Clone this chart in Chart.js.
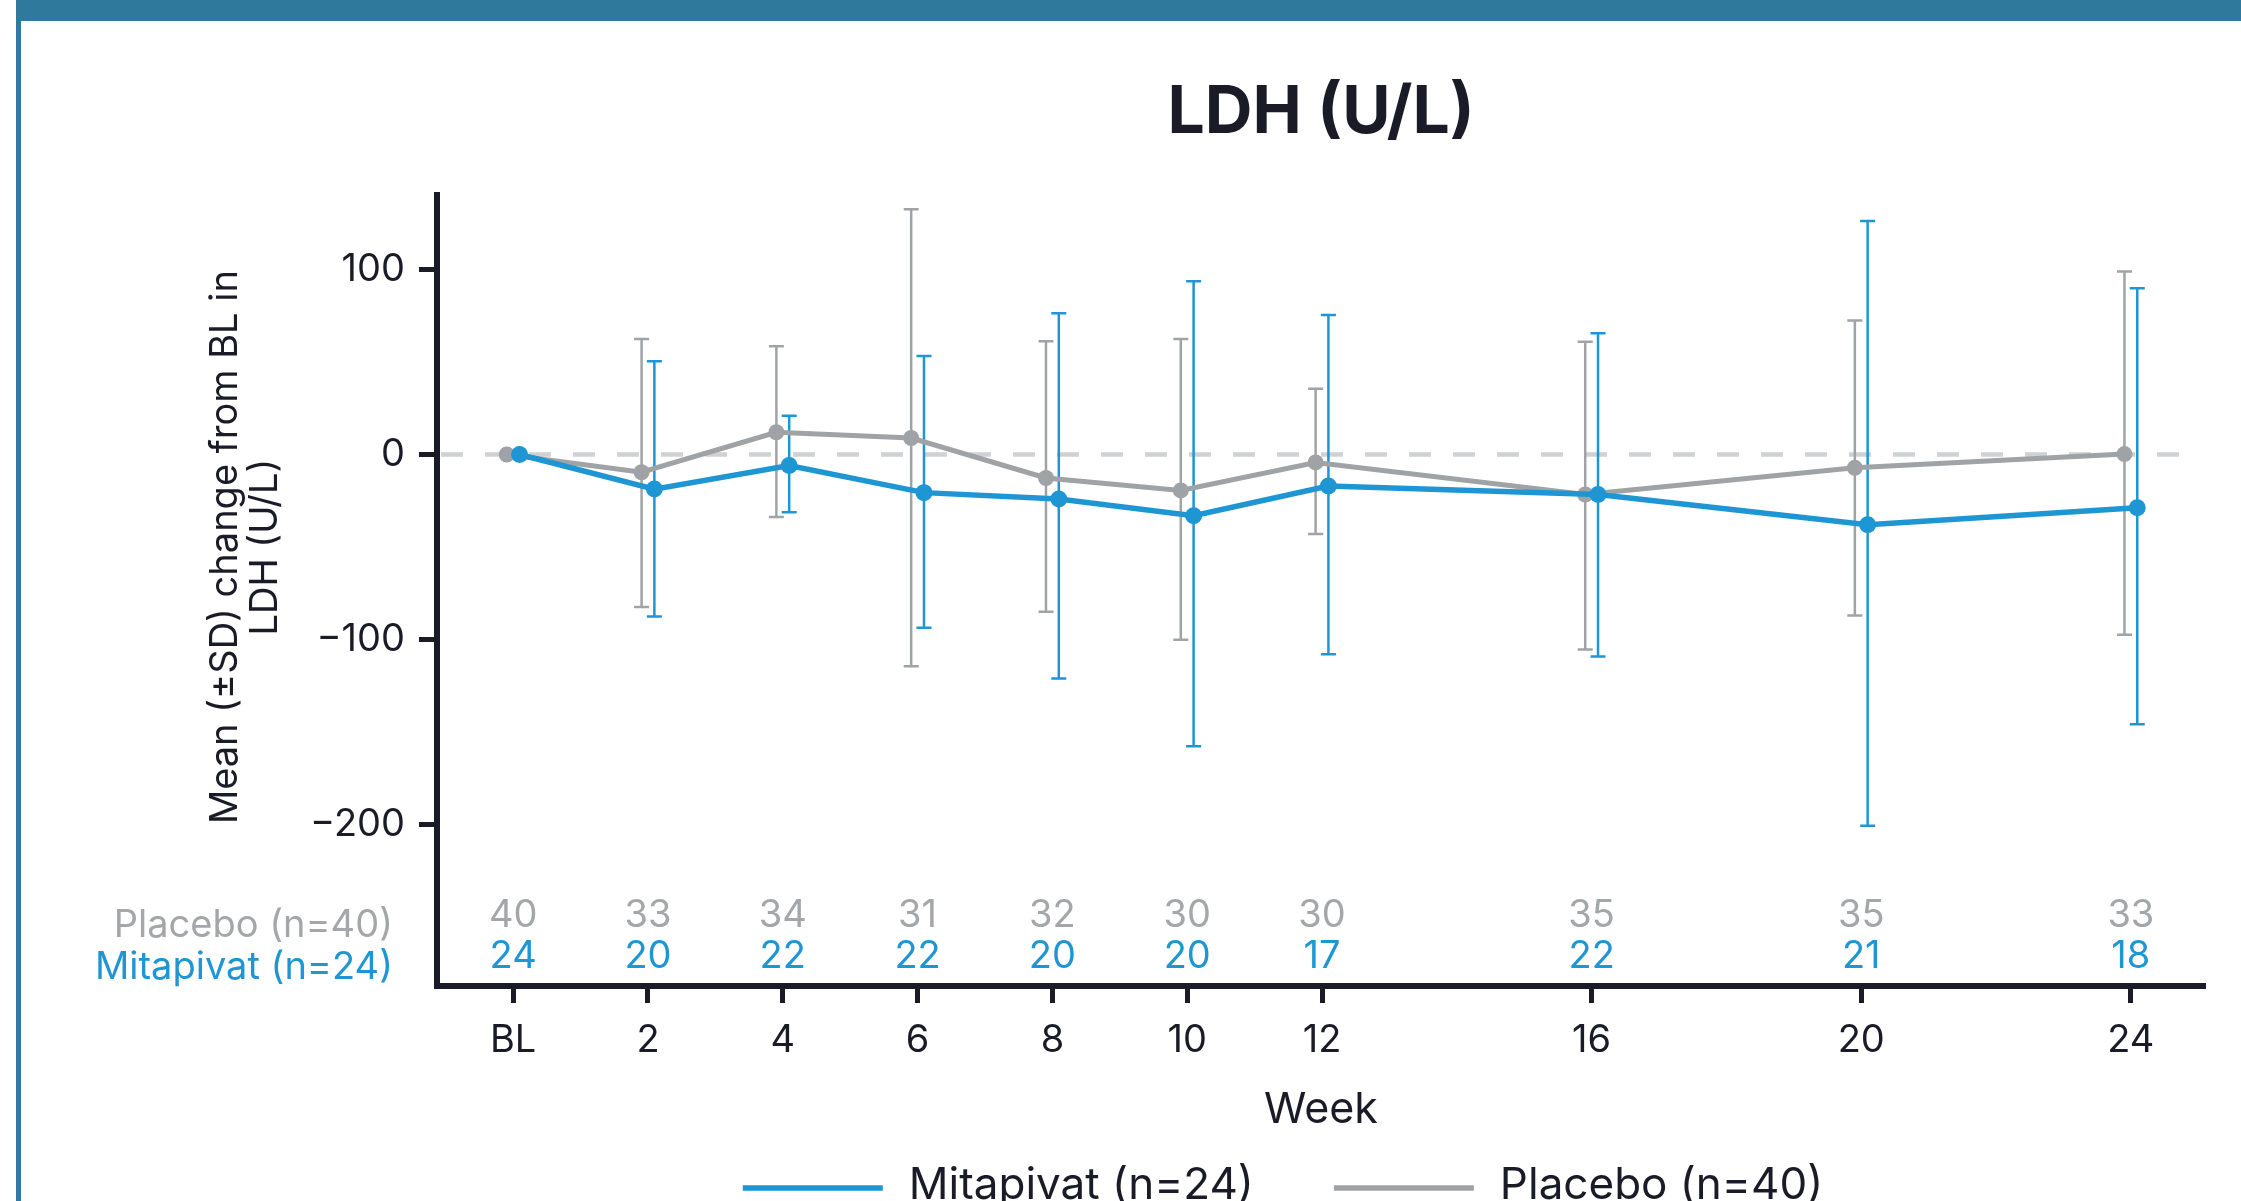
<!DOCTYPE html>
<html>
<head>
<meta charset="utf-8">
<title>LDH (U/L)</title>
<script src="https://cdn.jsdelivr.net/npm/chart.js@4.4.0/dist/chart.umd.min.js"></script>
<style>
    html, body { margin: 0; padding: 0; background: #fff; overflow: hidden; }
    #frame { position: relative; width: 2241px; height: 1201px; overflow: hidden; }
    #frame canvas { position: absolute; left: 0; top: 0; }
    #topBar { position: absolute; left: 16px; top: 0; right: 0; height: 21px; background: #2e799c; }
    #sideBar { position: absolute; left: 16px; top: 0; bottom: 0; width: 5px; background: #2e799c; }
</style>
</head>
<body>
<div id="frame">
    <canvas id="ldhChart" width="2241" height="1201"></canvas>
    <div id="topBar"></div>
    <div id="sideBar"></div>
</div>
<script>
// data
const weeks = [0, 2, 4, 6, 8, 10, 12, 16, 20, 24];
const weekTickLabels = ['BL', '2', '4', '6', '8', '10', '12', '16', '20', '24'];
const yTicks = [-200, -100, 0, 100];

const mitapivatMean = [0, -18.7, -6, -20.6, -24, -33.1, -17, -21.6, -37.9, -28.8];
const mitapivatLow = [0, -87.5, -31.2, -93.5, -120.9, -157.6, -107.9, -109.1, -200.5, -145.6];
const mitapivatHigh = [0, 50.4, 20.9, 53.2, 76.3, 93.5, 75.3, 65.5, 126.1, 89.7];
const mitapivatN = [24, 20, 22, 22, 20, 20, 17, 22, 21, 18];

const placeboMean = [0, -9.6, 12, 8.9, -12.7, -19.4, -4.3, -21.6, -7.2, 0.2];
const placeboLow = [0, -82.3, -33.8, -114.4, -84.9, -100, -42.9, -105.3, -87, -97.4];
const placeboHigh = [0, 62.4, 58.5, 132.4, 61.2, 62.4, 35.5, 60.9, 72.4, 98.8];
const placeboN = [40, 33, 34, 31, 32, 30, 30, 35, 35, 33];

const ink = '#1b1b27';
const blue = '#1e96d4';
const grey = '#a0a3a5';
const greyText = '#a4a7a9';
const fontFamily = "Inter, 'Liberation Sans', sans-serif";
const dodge = 0.095;

Chart.defaults.font.family = fontFamily;
Chart.defaults.color = ink;

function points(means, shift) {
    return weeks.map((w, i) => ({ x: w + shift, y: means[i] }));
}

const errorRanges = [
    { low: mitapivatLow, high: mitapivatHigh },
    { low: placeboLow, high: placeboHigh }
];
const countRows = [
    { label: 'Placebo (n=40)', values: placeboN, color: greyText, offset: -70, labelOffset: -60 },
    { label: 'Mitapivat (n=24)', values: mitapivatN, color: blue, offset: -29, labelOffset: -18 }
];

// dashed zero line + SD whiskers, under the lines
const errorBarPlugin = {
    id: 'errorBars',
    beforeDatasetsDraw(chart) {
        const ctx = chart.ctx;
        const xs = chart.scales.x;
        const ys = chart.scales.y;

        ctx.save();
        ctx.strokeStyle = '#cfd1d2';
        ctx.lineWidth = 4.5;
        ctx.setLineDash([22, 22]);
        ctx.beginPath();
        ctx.moveTo(chart.chartArea.left + 4, ys.getPixelForValue(0));
        ctx.lineTo(xs.getPixelForValue(24.75), ys.getPixelForValue(0));
        ctx.stroke();
        ctx.restore();

        for (let d = chart.data.datasets.length - 1; d >= 0; d--) {
            const ds = chart.data.datasets[d];
            const range = errorRanges[d];
            ctx.save();
            ctx.strokeStyle = ds.borderColor;
            ctx.lineWidth = 2.5;
            ds.data.forEach((p, i) => {
                const lo = range.low[i];
                const hi = range.high[i];
                if (lo === hi) return;
                const px = xs.getPixelForValue(p.x);
                const top = ys.getPixelForValue(hi);
                const bot = ys.getPixelForValue(lo);
                ctx.beginPath();
                ctx.moveTo(px, top);
                ctx.lineTo(px, bot);
                ctx.moveTo(px - 7.5, top);
                ctx.lineTo(px + 7.5, top);
                ctx.moveTo(px - 7.5, bot);
                ctx.lineTo(px + 7.5, bot);
                ctx.stroke();
            });
            ctx.restore();
        }
    }
};

// y title, patient counts and the legend
const annotationsPlugin = {
    id: 'annotations',
    afterDraw(chart) {
        const ctx = chart.ctx;
        const xs = chart.scales.x;
        const ys = chart.scales.y;
        const area = chart.chartArea;

        ctx.save();
        ctx.fillStyle = ink;
        ctx.font = '38px ' + fontFamily;
        ctx.textAlign = 'center';
        ctx.textBaseline = 'middle';
        const midY = (ys.getPixelForValue(100) + ys.getPixelForValue(-200)) / 2;
        ctx.translate(226, midY);
        ctx.rotate(-Math.PI / 2);
        ctx.fillText('Mean (\u00b1SD) change from BL in', 0, 0);
        ctx.fillText('LDH (U/L)', 0, 40);
        ctx.restore();

        ctx.save();
        ctx.font = '38px ' + fontFamily;
        ctx.textBaseline = 'middle';
        countRows.forEach(row => {
            ctx.fillStyle = row.color;
            ctx.textAlign = 'center';
            row.values.forEach((n, i) => {
                ctx.fillText(String(n), xs.getPixelForValue(weeks[i]), area.bottom + row.offset);
            });
            ctx.textAlign = 'right';
            ctx.fillText(row.label, area.left - 44, area.bottom + row.labelOffset);
        });
        ctx.restore();

        ctx.save();
        ctx.font = '44px ' + fontFamily;
        ctx.textBaseline = 'middle';
        ctx.textAlign = 'left';
        const lineLen = 140;
        const textGap = 26;
        const itemGap = 80;
        const items = chart.data.datasets.map(ds => ({
            text: ds.label, color: ds.borderColor, w: ctx.measureText(ds.label).width
        }));
        let total = 0;
        items.forEach((it, i) => { total += lineLen + textGap + it.w + (i > 0 ? itemGap : 0); });
        let x = 1283 - total / 2;
        const ly = 1188;
        items.forEach(it => {
            ctx.strokeStyle = it.color;
            ctx.lineWidth = 5.5;
            ctx.beginPath();
            ctx.moveTo(x, ly);
            ctx.lineTo(x + lineLen, ly);
            ctx.stroke();
            ctx.fillStyle = ink;
            ctx.fillText(it.text, x + lineLen + textGap, ly - 2);
            x += lineLen + textGap + it.w + itemGap;
        });
        ctx.restore();
    }
};

const ctx = document.getElementById('ldhChart').getContext('2d');
new Chart(ctx, {
    type: 'line',
    data: {
        datasets: [
            {
                label: 'Mitapivat (n=24)',
                data: points(mitapivatMean, dodge),
                borderColor: blue,
                backgroundColor: blue,
                borderWidth: 5.5,
                pointRadius: 8.5,
                pointBorderWidth: 0,
                tension: 0
            },
            {
                label: 'Placebo (n=40)',
                data: points(placeboMean, -dodge),
                borderColor: grey,
                backgroundColor: grey,
                borderWidth: 5,
                pointRadius: 8,
                pointBorderWidth: 0,
                tension: 0
            }
        ]
    },
    options: {
        responsive: false,
        devicePixelRatio: 1,
        animation: false,
        events: [],
        layout: { padding: { left: 0, right: 36, top: 0, bottom: 60 }, autoPadding: false },
        plugins: {
            legend: { display: false },
            tooltip: { enabled: false },
            title: {
                display: true,
                fullSize: false,
                text: 'LDH (U/L)',
                color: ink,
                font: { size: 66, weight: 'bold' },
                padding: { top: 74, bottom: 42 }
            }
        },
        scales: {
            x: {
                type: 'linear',
                min: -1.13,
                max: 25.1,
                afterBuildTicks: s => { s.ticks = weeks.map(v => ({ value: v })); },
                afterFit: s => { s.height = 155; },
                ticks: {
                    autoSkip: false,
                    maxRotation: 0,
                    color: ink,
                    font: { size: 38 },
                    padding: 15,
                    callback: (v, i) => weekTickLabels[i]
                },
                grid: { drawOnChartArea: false, drawTicks: true, tickLength: 17, tickWidth: 5, tickColor: ink },
                border: { display: true, color: ink, width: 6 },
                title: {
                    display: true,
                    text: 'Week',
                    color: ink,
                    font: { size: 43 },
                    padding: { top: 0, bottom: 5 }
                }
            },
            y: {
                type: 'linear',
                min: -287,
                max: 140,
                afterBuildTicks: s => { s.ticks = yTicks.map(v => ({ value: v })); },
                afterFit: s => { s.width = 437; },
                ticks: {
                    color: ink,
                    font: { size: 38 },
                    padding: 14,
                    callback: v => String(v).replace('-', '\u2212')
                },
                grid: { drawOnChartArea: false, drawTicks: true, tickLength: 18, tickWidth: 5, tickColor: ink },
                border: { display: true, color: ink, width: 6 }
            }
        }
    },
    plugins: [errorBarPlugin, annotationsPlugin]
});
</script>
</body>
</html>
